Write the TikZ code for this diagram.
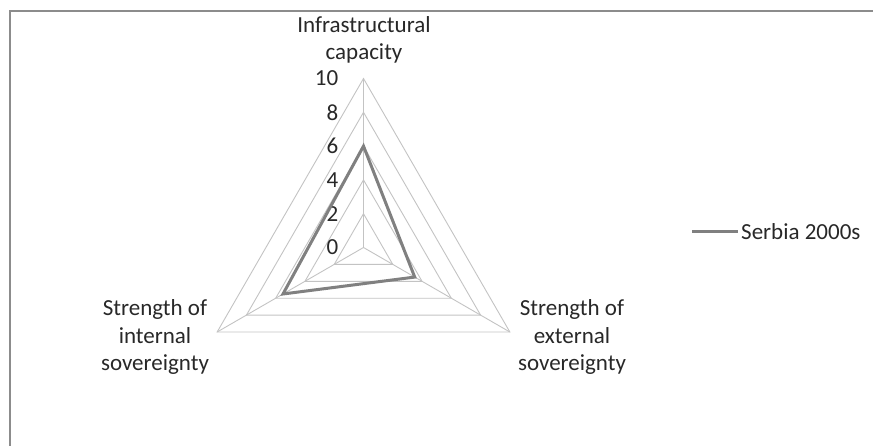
\documentclass[tikz,border=0pt]{standalone}
\usepackage{fontspec}
\setmainfont{Carlito}
\definecolor{gridgray}{RGB}{195,195,195}
\definecolor{seriesgray}{RGB}{128,128,128}
\definecolor{framegray}{RGB}{140,140,140}
\definecolor{txt}{RGB}{40,40,40}
\begin{document}
\begin{tikzpicture}[x=1pt,y=-1pt,
  gridline/.style={draw=gridgray, line width=0.9pt},
  series/.style={draw=seriesgray, line width=3pt, line join=miter},
  frameline/.style={draw=framegray, line width=2.5pt},
  lbl/.style={font=\fontsize{23}{27.5}\selectfont, text=txt, align=center, inner sep=0pt},
  ticklbl/.style={font=\fontsize{23}{27.5}\selectfont, text=txt, anchor=east, inner sep=0pt}]
\useasboundingbox (0,0) rectangle (873,445);

% outer chart frame (top and left edges)
\draw[frameline] (10,446) -- (10,11) -- (874,11);

% radar chart, radius 169 for the value 10
\begin{scope}[shift={(363.5,247.5)}, yscale=-1]
  \coordinate (c) at (0,0);
  \coordinate (vtop) at (90:169);
  \coordinate (vleft) at (210:169);
  \coordinate (vright) at (330:169);
  \foreach \k in {2,4,6,8,10}
    \draw[gridline] (90:{\k*16.9}) -- (210:{\k*16.9}) -- (330:{\k*16.9}) -- cycle;
  \draw[gridline] (c) -- (vtop);
  \draw[gridline] (c) -- (vleft);
  \draw[gridline] (c) -- (vright);
  % tick labels along the vertical axis
  \foreach \k in {0,2,4,6,8,10}
    \node[ticklbl] (t\k) at (-25,{\k*16.9}) {\k};
  % data series
  \coordinate (s1) at (90:{6*16.9});
  \coordinate (s2) at (210:{5.5*16.9});
  \coordinate (s3) at (330:{3.5*16.9});
  \draw[series] (s1) -- (s2) -- (s3) -- cycle;
\end{scope}

% axis titles
\node[lbl] (axtop) at (364,40) {Infrastructural\\capacity};
\node[lbl] (axleft) at (155,337) {Strength of\\internal\\sovereignty};
\node[lbl] (axright) at (572,337) {Strength of\\external\\sovereignty};

% legend
\coordinate (lg1) at (692,231);
\coordinate (lg2) at (738,231);
\draw[series] (lg1) -- (lg2);
\node[lbl, anchor=west] (lgtext) at (741,232) {Serbia 2000s};
\end{tikzpicture}
\end{document}
